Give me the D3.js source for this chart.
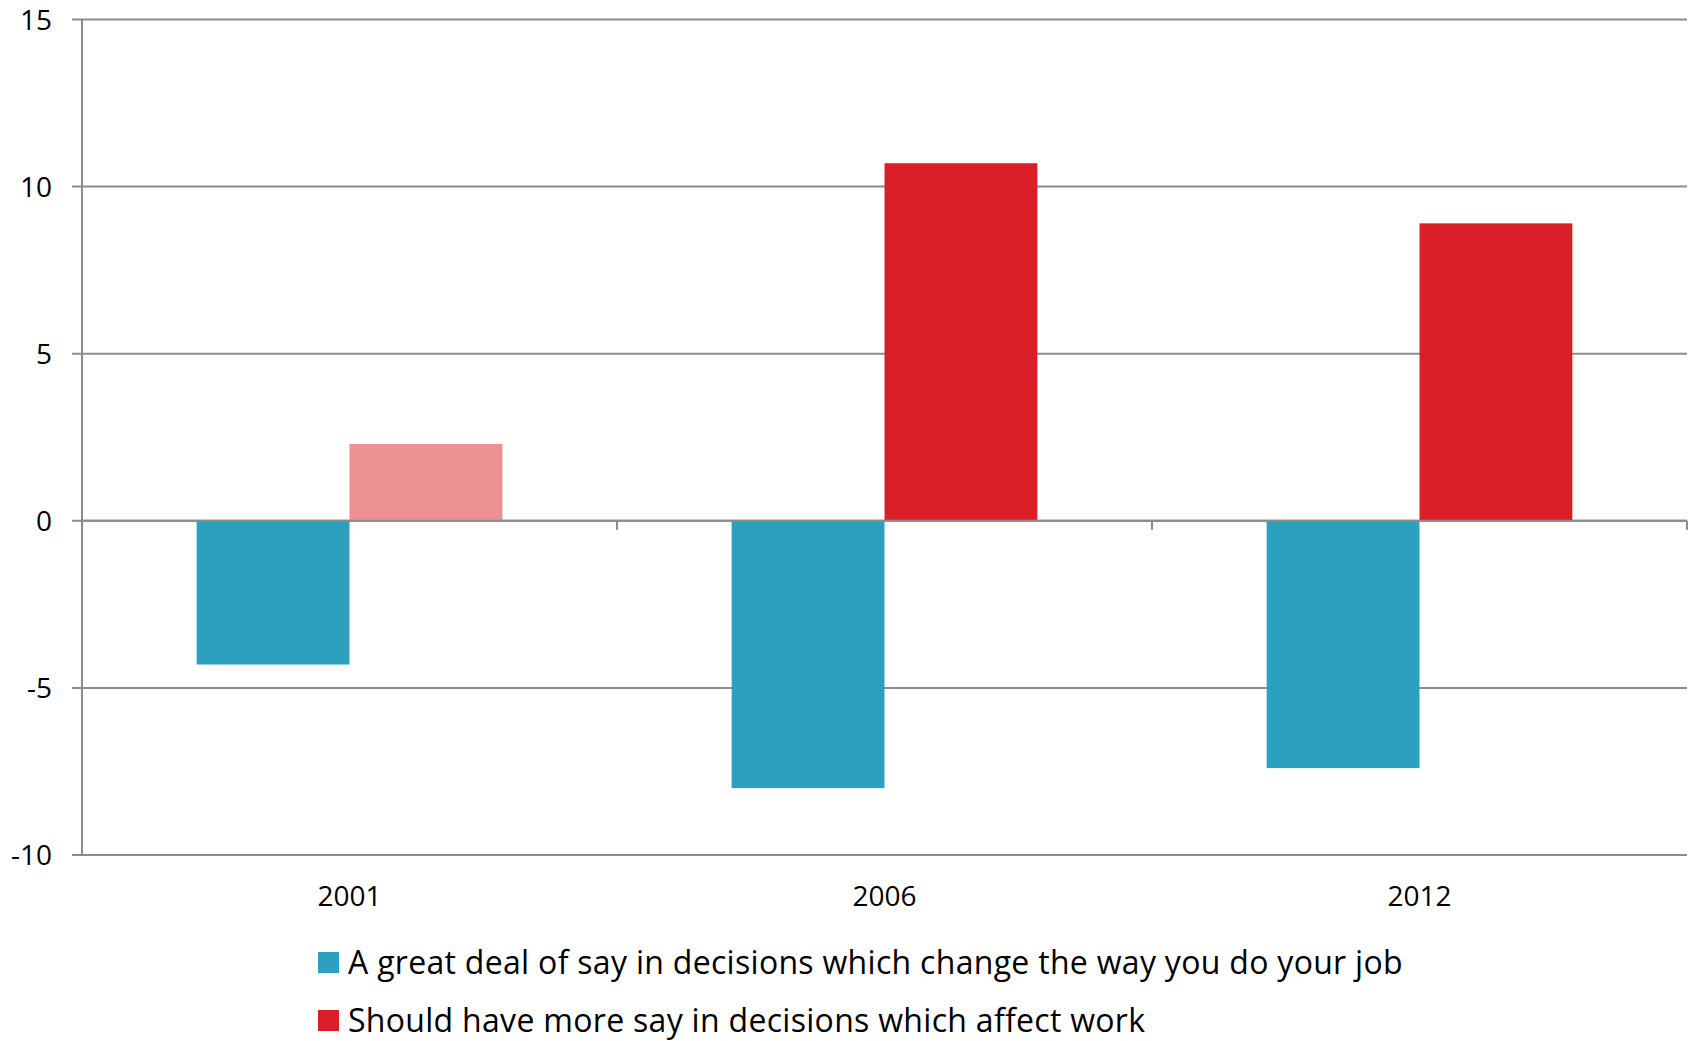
<!DOCTYPE html>
<html>
<head>
<meta charset="utf-8">
<script src="https://cdn.jsdelivr.net/npm/d3@7.9.0/dist/d3.min.js"></script>
<style>
  body { margin: 0; background: #fff; }
  text { font-family: "Open Sans", sans-serif; fill: #000; }
</style>
</head>
<body>
<div id="vis"></div>
<script>
// data
const years = ["2001", "2006", "2012"];
const seriesNames = [
  "A great deal of say in decisions which change the way you do your job",
  "Should have more say in decisions which affect work"
];
const sayValues = [-4.3, -8.0, -7.4];
const moreSayValues = [2.3, 10.7, 8.9];
const yTicks = [-10, -5, 0, 5, 10, 15];

const width = 1694;
const height = 1041;
const margin = { top: 19.5, right: 7, bottom: 186, left: 82 };

const blue = "#2ca1bf";
const red = "#db1f29";
const pink = "#ec9094";
const grey = "#8c8c8c";

const xScale = d3
  .scaleBand()
  .domain(years)
  .range([margin.left, width - margin.right]);
const yScale = d3
  .scaleLinear()
  .domain([-10, 15])
  .range([height - margin.bottom, margin.top]);

const svg = d3
  .select("#vis")
  .append("svg")
  .attr("width", width)
  .attr("height", height);

// gridlines
svg
  .append("g")
  .selectAll("line")
  .data(yTicks)
  .enter()
  .append("line")
  .attr("x1", margin.left - 10)
  .attr("x2", width - margin.right)
  .attr("y1", (d) => yScale(d))
  .attr("y2", (d) => yScale(d))
  .attr("stroke", grey)
  .attr("stroke-width", 2);

// y axis line
svg
  .append("line")
  .attr("x1", margin.left)
  .attr("x2", margin.left)
  .attr("y1", yScale(15))
  .attr("y2", yScale(-10))
  .attr("stroke", grey)
  .attr("stroke-width", 2);

// y tick labels
svg
  .append("g")
  .selectAll("text")
  .data(yTicks)
  .enter()
  .append("text")
  .attr("x", 52)
  .attr("y", (d) => yScale(d))
  .attr("dy", "0.36em")
  .attr("text-anchor", "end")
  .style("font-size", "28px")
  .text((d) => d);

// bars
const bw = xScale.bandwidth();
const barW = bw / 3.5;
const gap = (bw - 2 * barW) / 2;

svg
  .append("g")
  .selectAll("rect")
  .data(years)
  .enter()
  .append("rect")
  .attr("x", (d) => xScale(d) + gap)
  .attr("y", yScale(0))
  .attr("width", barW)
  .attr("height", (d, i) => yScale(sayValues[i]) - yScale(0))
  .attr("fill", blue);

svg
  .append("g")
  .selectAll("rect")
  .data(years)
  .enter()
  .append("rect")
  .attr("x", (d) => xScale(d) + gap + barW)
  .attr("y", (d, i) => yScale(moreSayValues[i]))
  .attr("width", barW)
  .attr("height", (d, i) => yScale(0) - yScale(moreSayValues[i]))
  .attr("fill", (d, i) => (i === 0 ? pink : red));

// x axis at zero with category boundary ticks
svg
  .append("line")
  .attr("x1", margin.left)
  .attr("x2", width - margin.right)
  .attr("y1", yScale(0))
  .attr("y2", yScale(0))
  .attr("stroke", grey)
  .attr("stroke-width", 2);

svg
  .append("g")
  .selectAll("line")
  .data(years.slice(1).map((d) => xScale(d)).concat([width - margin.right]))
  .enter()
  .append("line")
  .attr("x1", (d) => d)
  .attr("x2", (d) => d)
  .attr("y1", yScale(0))
  .attr("y2", yScale(0) + 9)
  .attr("stroke", grey)
  .attr("stroke-width", 2);

// category labels
svg
  .append("g")
  .selectAll("text")
  .data(years)
  .enter()
  .append("text")
  .attr("x", (d) => xScale(d) + bw / 2)
  .attr("y", 906)
  .attr("text-anchor", "middle")
  .style("font-size", "28px")
  .text((d) => d);

// legend
const legend = svg
  .append("g")
  .selectAll("g")
  .data(seriesNames)
  .enter()
  .append("g")
  .attr("transform", (d, i) => `translate(318,${962 + i * 58})`);

legend
  .append("rect")
  .attr("x", 0)
  .attr("y", -10)
  .attr("width", 21)
  .attr("height", 21)
  .attr("fill", (d, i) => (i === 0 ? blue : red));

legend
  .append("text")
  .attr("x", 30)
  .attr("y", 0)
  .attr("dy", "0.36em")
  .style("font-size", "32px")
  .style("letter-spacing", "0.3px")
  .text((d) => d);
</script>
</body>
</html>
